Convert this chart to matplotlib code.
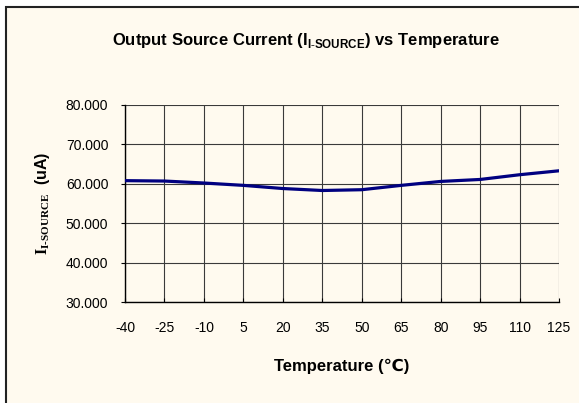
import matplotlib
matplotlib.use("Agg")
import matplotlib.pyplot as plt
from matplotlib.patches import Rectangle

plt.rcParams['font.family'] = ['Liberation Sans', 'DejaVu Sans']
plt.rcParams['mathtext.fontset'] = 'custom'
plt.rcParams['mathtext.bf'] = 'Liberation Sans:bold'
plt.rcParams['mathtext.rm'] = 'Liberation Serif:bold'

# data
temps = ['-40', '-25', '-10', '5', '20', '35', '50', '65', '80', '95', '110', '125']
current_ua = [60.8, 60.7, 60.2, 59.6, 58.8, 58.3, 58.5, 59.6, 60.6, 61.1, 62.3, 63.3]
y_ticks = [30, 40, 50, 60, 70, 80]

cream = '#FFFAEF'
W, H = 579, 403
fig = plt.figure(figsize=(W / 100, H / 100), dpi=100)
fig.patch.set_facecolor('white')

# chart area frame (cropped on right/bottom)
frame = Rectangle((6 / W, -0.1), 1.1, 1.1 - 7 / H, transform=fig.transFigure,
                  facecolor=cream, edgecolor='#222222', lw=1.5, zorder=-1)
fig.patches.append(frame)

ax = fig.add_axes([125 / W, 1 - 302 / H, (559 - 125) / W, (302 - 105) / H])
ax.set_facecolor(cream)

x = list(range(len(temps)))
ax.plot(x, current_ua, color='#000080', lw=2.3, solid_capstyle='round', zorder=3)

ax.set_xlim(0, len(temps) - 1)
ax.set_ylim(30, 80)
ax.set_xticks(x)
ax.set_xticklabels(temps)
ax.set_yticks(y_ticks)
ax.set_yticklabels(['%.3f' % v for v in y_ticks])
ax.grid(True, color='#3a3a3a', lw=0.8)
ax.set_axisbelow(True)
for s in ['top', 'right']:
    ax.spines[s].set_visible(False)
for s in ['left', 'bottom']:
    ax.spines[s].set_color('black')
    ax.spines[s].set_linewidth(1.0)
ax.tick_params(axis='y', length=3, labelsize=10, pad=9)
ax.tick_params(axis='x', length=3, direction='in', labelsize=10, pad=14)

ax.set_xlabel('Temperature (\u2103)', fontsize=12, fontweight='bold', labelpad=17)
ax.set_ylabel(r'$\mathrm{I_{I\text{-}SOURCE}}$  (uA)', fontsize=11.5, fontweight='bold', labelpad=10)

fig.text(306 / W, 1 - 40 / H,
         r'Output Source Current (I$_{\mathbf{I\text{-}SOURCE}}$) vs Temperature',
         ha='center', va='center', fontsize=12, fontweight='bold')

fig.savefig('out.png', dpi=100, facecolor=fig.get_facecolor())
